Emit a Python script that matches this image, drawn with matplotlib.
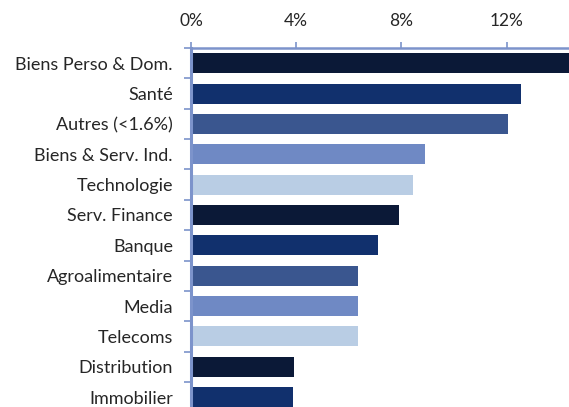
import matplotlib.pyplot as plt
from matplotlib.ticker import FuncFormatter, FixedLocator

plt.rcParams["font.family"] = ["Lato", "DejaVu Sans"]

# sector weights (%), top to bottom
sectors = ["Biens Perso & Dom.", "Santé", "Autres (<1.6%)", "Biens & Serv. Ind.",
           "Technologie", "Serv. Finance", "Banque", "Agroalimentaire",
           "Media", "Telecoms", "Distribution", "Immobilier"]
weights = [14.6, 12.53, 12.05, 8.9, 8.44, 7.9, 7.1, 6.35, 6.35, 6.35, 3.92, 3.88]

palette = ["#0B1937", "#11306D", "#3A568F", "#6F89C4", "#B9CDE4"]
axis_blue = "#7C93CB"

fig = plt.figure(figsize=(5.69, 4.07), dpi=100)
ax = fig.add_axes([191 / 569, -0.013, 1 - 191 / 569, 1 - 48 / 407 + 0.013])

ypos = list(range(len(sectors)))
colors = [palette[i % len(palette)] for i in ypos]
ax.barh(ypos, weights, height=0.66, color=colors, zorder=2)

ax.set_xlim(0, 14.37)
ax.set_ylim(len(sectors) - 0.5, -0.5)

ax.xaxis.tick_top()
ax.set_xticks([0, 4, 8, 12])
ax.xaxis.set_major_formatter(FuncFormatter(lambda v, _p: f"{v:.0f}%"))
ax.tick_params(axis="x", length=4.5, width=1.2, color=axis_blue, pad=9,
               labelsize=12.5, labelcolor="#262626")

ax.set_yticks(ypos)
ax.set_yticklabels(sectors)
ax.yaxis.set_minor_locator(FixedLocator([i + 0.5 for i in range(-1, len(sectors))]))
ax.tick_params(axis="y", which="major", length=0, pad=13, labelsize=13,
               labelcolor="#262626")
ax.tick_params(axis="y", which="minor", length=5, width=1.2, color=axis_blue)

for side in ["right", "bottom"]:
    ax.spines[side].set_visible(False)
ax.spines["top"].set_color(axis_blue)
ax.spines["top"].set_linewidth(1.8)
ax.spines["left"].set_color(axis_blue)
ax.spines["left"].set_linewidth(2.2)
ax.spines["left"].set_zorder(3)

fig.savefig("out.png", dpi=100)
